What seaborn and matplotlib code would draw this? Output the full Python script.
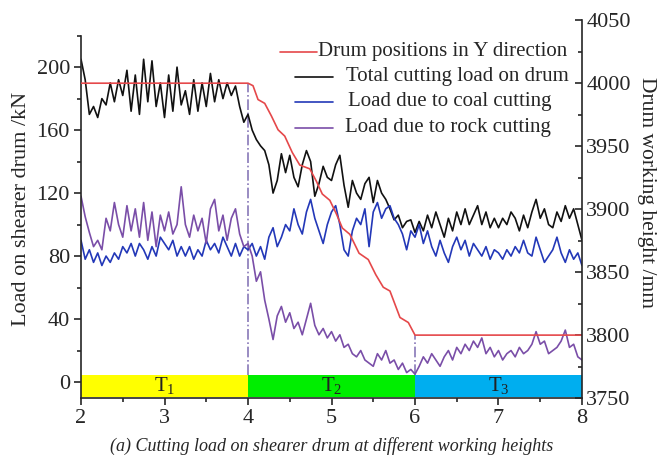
import numpy as np
import pandas as pd
import matplotlib
matplotlib.use("Agg")
import matplotlib.pyplot as plt
import seaborn as sns

# time axis (s), sampled every 0.05
t = np.round(np.linspace(2, 8, 121), 2)

total_load = [205, 192, 170, 175, 168, 180, 176, 190, 178, 192, 182, 198, 172, 195, 170, 205, 178, 204, 175, 190,
              168, 195, 172, 200, 176, 185, 170, 192, 172, 190, 175, 196, 178, 192, 180, 190, 182, 188, 175, 165,
              170,
              160, 154, 150, 147, 138, 120, 128, 145, 133, 144, 130, 124, 138, 147, 140, 118, 126, 137, 130, 128,
              138, 144, 125, 111, 128, 120, 116, 126, 130, 114, 128, 120, 116, 110, 103, 106, 98, 102, 103, 95,
              102, 96, 106, 98, 108, 100, 92, 104, 96, 108, 100, 110, 100, 106, 112, 100, 108, 98, 104, 98,
              104, 100, 108, 104, 96, 106, 98, 108, 116, 104, 110, 100, 98, 108, 102, 112, 104, 110, 100, 90]

coal_load = [90, 78, 84, 76, 82, 74, 80, 76, 82, 78, 86, 82, 88, 80, 88, 84, 78, 86, 80, 92,
             88, 84, 90, 80, 86, 80, 86, 78, 84, 80, 90, 84, 88, 82, 92, 86, 80, 88, 80, 86,
             84,
             88, 80, 86, 78, 92, 98, 86, 92, 100, 96, 110, 100, 94, 108, 116, 104, 96, 88, 100, 108,
             112, 100, 84, 80, 96, 104, 100, 110, 86, 108, 114, 104, 110, 112, 104, 100, 94, 84, 96, 92,
             100, 88, 96, 86, 80, 90, 82, 76, 86, 92, 84, 90, 80, 88, 84, 80, 86, 78, 84, 82,
             78, 84, 80, 86, 82, 90, 82, 80, 92, 84, 76, 80, 84, 92, 82, 76, 84, 78, 82, 74]

rock_load = [118, 105, 95, 86, 90, 84, 104, 96, 114, 100, 92, 112, 96, 110, 92, 114, 90, 108, 86, 106,
             96, 108, 94, 100, 124, 100, 92, 106, 96, 104, 88, 110, 116, 96, 106, 90, 104, 110, 94, 86,
             88,
             80, 64, 70, 52, 40, 27, 42, 48, 38, 44, 34, 38, 30, 40, 50, 36, 30, 34, 28, 32,
             26, 30, 22, 24, 18, 16, 20, 14, 12, 10, 18, 14, 20, 12, 14, 8, 12, 6, 8, 5,
             10, 16, 12, 18, 14, 10, 16, 20, 14, 22, 18, 24, 20, 26, 22, 28, 18, 22, 16, 20,
             14, 18, 20, 16, 22, 18, 20, 24, 32, 24, 26, 18, 20, 22, 26, 33, 22, 24, 16, 14]

# drum position in Y direction (mm)
pos_t = [2.0, 4.0, 4.06, 4.12, 4.2, 4.28, 4.36, 4.44, 4.53, 4.62, 4.74, 4.82, 4.89, 4.98, 5.06,
         5.13, 5.22, 5.33, 5.44, 5.53, 5.62, 5.70, 5.82, 5.92, 6.0, 8.0]
pos_y = [4000, 4000, 3998, 3987, 3984, 3974, 3963, 3958, 3945, 3935, 3932, 3922, 3912, 3907, 3896,
         3885, 3880, 3865, 3860, 3848, 3838, 3835, 3814, 3810, 3800, 3800]

stages = ["$\\mathregular{T_1}$", "$\\mathregular{T_2}$", "$\\mathregular{T_3}$"]
stage_start = [2, 4, 6]
stage_colors = ["#FFFF00", "#00EE00", "#00AEEF"]

legend_labels = ["Drum positions in Y direction", "Total cutting load on drum",
                 "Load due to coal cutting", "Load due to rock cutting"]
line_colors = ["#e5484a", "#111111", "#2338b8", "#7a4ea8"]

df = pd.DataFrame({"t": t, "total": total_load, "coal": coal_load, "rock": rock_load})
pos = pd.DataFrame({"t": pos_t, "y": pos_y})

sns.set_style("ticks")
plt.rcParams["font.family"] = ["Liberation Serif", "DejaVu Serif"]

fig = plt.figure(figsize=(6.64, 4.70), dpi=100)
ax = fig.add_axes([0.122, 0.153, 0.7545, 0.804])
ax2 = ax.twinx()

# stage bands
for lab, x0, c in zip(stages, stage_start, stage_colors):
    ax.bar(x0, 14, width=2, bottom=-9.5, align="edge", color=c, linewidth=0, zorder=1)
    ax.text(x0 + 1, -2.5, lab, ha="center", va="center", fontsize=15, color="#222222", zorder=2)

ax.vlines(4, 4.5, 190, colors="#8878b8", linestyles="-.", linewidth=1.2, zorder=2)
ax.vlines(6, 4.5, 30, colors="#8878b8", linestyles="-.", linewidth=1.2, zorder=2)

sns.lineplot(data=df, x="t", y="total", ax=ax, color=line_colors[1], linewidth=1.2, legend=False)
sns.lineplot(data=df, x="t", y="coal", ax=ax, color=line_colors[2], linewidth=1.2, legend=False)
sns.lineplot(data=df, x="t", y="rock", ax=ax, color=line_colors[3], linewidth=1.2, legend=False)
sns.lineplot(data=pos, x="t", y="y", ax=ax2, color=line_colors[0], linewidth=1.2, legend=False)

ax.set_xlim(2, 8)
ax.set_ylim(-10.2, 229.8)
ax2.set_ylim(3750, 4050)

ax.set_xticks([2, 3, 4, 5, 6, 7, 8])
ax.set_xticks(np.arange(2.5, 8, 1), minor=True)
ax.set_yticks([0, 40, 80, 120, 160, 200])
ax.set_yticks([20, 60, 100, 140, 180, 220], minor=True)
ax2.set_yticks([3750, 3800, 3850, 3900, 3950, 4000, 4050])
ax2.set_yticks([3775, 3825, 3875, 3925, 3975, 4025], minor=True)

ax.tick_params(axis="both", which="major", labelsize=16, length=5, width=1.2, direction="out", pad=3)
ax.tick_params(axis="both", which="minor", length=3, width=1.2, direction="out")
ax2.tick_params(axis="y", which="major", labelsize=16, length=5, width=1.2, direction="in", pad=3)
ax2.tick_params(axis="y", which="minor", length=3, width=1.2, direction="in")

for a in (ax, ax2):
    a.spines["top"].set_visible(False)
    for s in a.spines.values():
        s.set_linewidth(1.2)
ax.spines["right"].set_visible(False)
ax2.spines["left"].set_visible(False)
ax2.spines["bottom"].set_visible(False)
ax.spines["left"].set_bounds(-10.2, 220)

ax.set_xlabel("")
ax.set_ylabel("Load on shearer drum /kN", fontsize=16, labelpad=4)
ax2.set_ylabel("Drum working height /mm", fontsize=15.5, rotation=270, labelpad=18)
ax2.yaxis.label.set_y(0.545)

# legend drawn by hand: the original centres its entries
leg_y = [0.916, 0.850, 0.784, 0.715]
text_x = [0.473, 0.529, 0.533, 0.527]
line_x = [(0.397, 0.472), (0.427, 0.503), (0.427, 0.503), (0.427, 0.503)]
for lab, c, y, tx, (l0, l1) in zip(legend_labels, line_colors, leg_y, text_x, line_x):
    ax2.plot([l0, l1], [y, y], color=c, linewidth=1.2, transform=ax2.transAxes)
    ax2.text(tx, y, lab, ha="left", va="center", fontsize=15, transform=ax2.transAxes)

fig.text(0.5, 0.052, "(a) Cutting load on shearer drum at different working heights",
         ha="center", va="center", fontsize=13, style="italic")

fig.savefig("out.png", dpi=100)
